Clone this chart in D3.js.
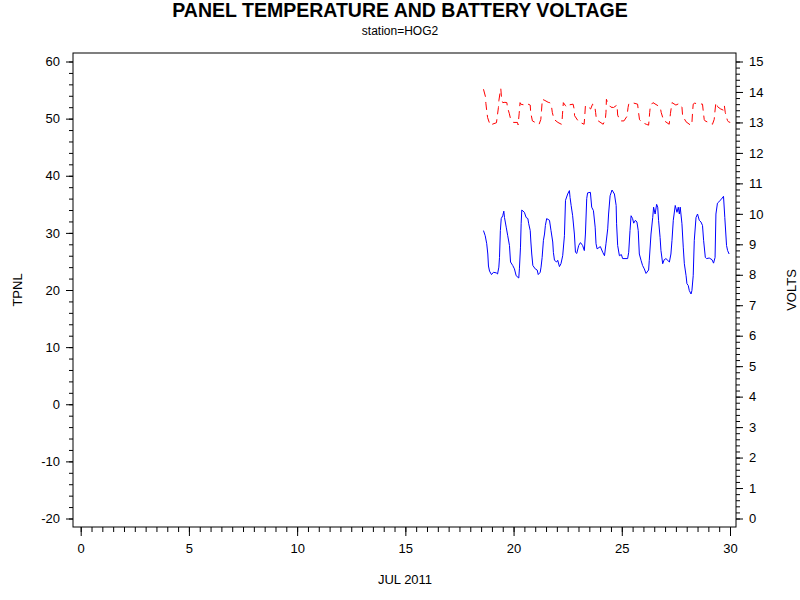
<!DOCTYPE html>
<html><head><meta charset="utf-8">
<script src="https://cdn.jsdelivr.net/npm/d3@7"></script>
<style>body{margin:0;background:#fff}svg{display:block}text{font-family:"Liberation Sans",Arial,sans-serif}</style>
</head><body>
<svg id="c" width="800" height="600"></svg>
<script>
const titleText = "PANEL TEMPERATURE AND BATTERY VOLTAGE";
const subtitleText = "station=HOG2";
const xLabel = "JUL 2011";
const yLeftLabel = "TPNL";
const yRightLabel = "VOLTS";
const xTicks = [0, 5, 10, 15, 20, 25, 30];
const yLeftTicks = [-20, -10, 0, 10, 20, 30, 40, 50, 60];
const yRightTicks = [0,1,2,3,4,5,6,7,8,9,10,11,12,13,14,15];

const tempDays = [18.61,18.69,18.76,18.81,18.84,18.89,18.98,19.07,19.20,19.26,19.32,19.35,19.39,19.43,19.50,19.55,19.58,19.66,19.73,19.81,19.86,19.96,20.04,20.12,20.24,20.27,20.32,20.35,20.38,20.50,20.58,20.66,20.70,20.77,20.80,20.84,20.89,21.00,21.09,21.14,21.23,21.27,21.32,21.38,21.43,21.47,21.53,21.66,21.73,21.81,21.84,21.89,21.99,22.04,22.12,22.19,22.27,22.35,22.40,22.50,22.58,22.61,22.66,22.73,22.81,22.86,22.92,23.01,23.09,23.19,23.27,23.32,23.38,23.42,23.55,23.61,23.69,23.77,23.81,23.86,24.01,24.12,24.20,24.27,24.35,24.39,24.46,24.55,24.66,24.74,24.76,24.81,24.89,24.98,25.04,25.27,25.32,25.38,25.43,25.50,25.55,25.63,25.70,25.76,25.81,25.89,25.96,26.04,26.12,26.24,26.27,26.35,26.43,26.47,26.54,26.61,26.66,26.70,26.77,26.81,26.89,26.96,27.04,27.20,27.27,27.32,27.38,27.47,27.55,27.61,27.66,27.70,27.78,27.84,27.89,27.97,28.01,28.07,28.12,28.20,28.24,28.30,28.35,28.43,28.50,28.58,28.66,28.73,28.78,28.86,28.92,29.04,29.17,29.24,29.31,29.35,29.42,29.58,29.70,29.76,29.84,29.89,29.96];
const tempValues = [30.4,29.5,28.1,26.3,24.2,23.3,22.7,23.1,23.0,22.8,24.0,25.7,30.4,32.5,33.0,33.8,32.7,31.0,29.5,27.8,24.9,24.3,23.7,22.5,22.1,23.7,27.5,31.6,34.0,33.6,32.7,32.5,31.6,30.4,28.4,26.3,24.3,23.7,23.5,22.7,23.1,24.0,25.7,28.7,29.8,31.3,32.5,32.2,30.4,28.4,26.6,25.2,24.9,25.2,24.1,24.6,26.0,29.5,35.7,36.8,37.4,36.2,34.8,33.0,29.8,26.6,26.4,27.8,28.3,27.8,26.9,29.8,36.0,37.0,37.1,34.5,33.9,31.0,28.1,27.2,27.6,26.6,26.0,28.1,30.7,33.3,36.5,37.5,36.8,34.8,31.6,27.8,26.0,26.2,25.5,25.5,26.6,30.4,33.0,32.5,31.7,32.2,31.9,30.4,26.3,25.2,24.3,23.7,22.9,23.5,25.2,29.8,32.7,34.5,33.3,35.0,34.5,32.2,29.2,26.9,24.6,25.3,25.5,24.9,26.3,28.7,32.2,34.8,33.6,34.5,33.3,34.5,31.6,27.5,24.6,22.5,21.1,20.8,19.9,19.3,19.9,22.5,28.7,32.7,33.3,32.2,31.9,31.3,28.7,25.7,25.5,25.6,25.3,24.7,25.7,33.3,35.2,35.8,36.4,32.7,27.8,26.9,26.3];

const voltDays = [18.61,18.70,18.72,18.76,18.80,18.92,19.05,19.21,19.26,19.30,19.32,19.36,19.41,19.45,19.50,19.60,19.69,19.72,19.80,19.87,20.00,20.18,20.21,20.26,20.30,20.33,20.45,20.55,20.67,20.77,20.79,20.87,21.00,21.18,21.26,21.29,21.33,21.45,21.60,21.67,21.75,21.79,21.87,22.05,22.21,22.24,22.26,22.30,22.40,22.49,22.60,22.75,22.80,22.82,23.01,23.26,23.29,23.32,23.40,23.50,23.56,23.65,23.75,23.79,23.83,24.14,24.24,24.27,24.29,24.37,24.50,24.62,24.78,24.81,24.93,25.10,25.24,25.29,25.32,25.47,25.73,25.78,25.82,26.00,26.13,26.24,26.29,26.32,26.44,26.67,26.78,26.82,26.93,27.19,27.25,27.32,27.50,27.65,27.78,27.81,27.97,28.20,28.24,28.27,28.30,28.35,28.73,28.77,28.81,28.85,29.19,29.27,29.30,29.34,29.38,29.42,29.55,29.70,29.74,29.78,29.88,29.93,30.01];
const voltValues = [14.09,13.85,13.63,13.38,13.16,12.91,12.95,12.99,13.27,13.49,13.71,13.90,14.11,13.75,13.65,13.66,13.65,13.49,13.30,13.09,13.00,13.00,12.92,13.30,13.65,13.60,13.58,13.62,13.60,13.57,13.33,13.05,13.00,12.94,13.10,13.38,13.76,13.72,13.66,13.65,13.54,13.33,13.10,13.00,12.94,13.05,13.27,13.65,13.55,13.49,13.58,13.60,13.44,13.22,13.02,12.94,13.22,13.55,13.55,13.48,13.44,13.60,13.55,13.33,13.09,12.94,13.10,13.33,13.76,13.60,13.50,13.49,13.57,13.24,13.05,13.05,13.20,13.49,13.60,13.65,13.60,13.30,13.09,12.98,12.94,12.91,13.33,13.55,13.65,13.55,13.49,13.33,13.07,12.94,13.30,13.65,13.57,13.62,13.50,13.22,13.02,12.90,12.98,13.33,13.60,13.63,13.60,13.33,13.09,13.05,12.94,13.10,13.33,13.60,13.65,13.52,13.45,13.40,13.55,13.33,13.07,13.02,13.00];

const svg = d3.select("#c");
const frame = {x0: 73, x1: 736, y0: 53, y1: 527};
const x = d3.scaleLinear().domain([0, 30]).range([80.7, 730]);
const yL = d3.scaleLinear().domain([-20, 60]).range([518.5, 61.5]);
const yR = d3.scaleLinear().domain([0, 15]).range([518.5, 61.5]);

const font = '"Liberation Sans",Arial,sans-serif';
const fmt = d => String(d);

// title
svg.append("text").attr("x", 400).attr("y", 17).attr("text-anchor", "middle")
  .attr("font-size", 19.5).attr("font-weight", "bold").text(titleText);
svg.append("text").attr("x", 400).attr("y", 35).attr("text-anchor", "middle")
  .attr("font-size", 12).text(subtitleText);

const xMinor = d3.range(0, 30.01, 0.5);
const yLMinor = d3.range(-20, 60.01, 2);
const yRMinor = d3.range(0, 15.01, 0.2);

function styleAxis(g){
  g.select(".domain").remove();
  g.selectAll("line").attr("stroke", "#000").attr("stroke-width", 1);
  g.selectAll("text").attr("font-family", font).attr("font-size", 13).attr("fill", "#000");
}

// left
const gl = svg.append("g").attr("transform", `translate(${frame.x0},0)`);
gl.append("g").call(d3.axisLeft(yL).tickValues(yLMinor).tickSize(4).tickFormat("")).call(styleAxis);
gl.append("g").call(d3.axisLeft(yL).tickValues(yLeftTicks).tickSize(7).tickPadding(6).tickFormat(fmt)).call(styleAxis);

// right
const gr = svg.append("g").attr("transform", `translate(${frame.x1},0)`);
gr.append("g").call(d3.axisRight(yR).tickValues(yRMinor).tickSize(4).tickFormat("")).call(styleAxis);
gr.append("g").call(d3.axisRight(yR).tickValues(yRightTicks).tickSize(7).tickPadding(6).tickFormat(fmt)).call(styleAxis);

// bottom
const gb = svg.append("g").attr("transform", `translate(0,${frame.y1})`);
gb.append("g").call(d3.axisBottom(x).tickValues(xMinor).tickSize(5).tickFormat("")).call(styleAxis);
gb.append("g").call(d3.axisBottom(x).tickValues(xTicks).tickSize(9).tickPadding(8).tickFormat(fmt)).call(styleAxis);

// frame
svg.append("rect").attr("x", frame.x0).attr("y", frame.y0)
  .attr("width", frame.x1 - frame.x0).attr("height", frame.y1 - frame.y0)
  .attr("fill", "none").attr("stroke", "#000").attr("stroke-width", 1);

// axis labels
svg.append("text").attr("transform", "translate(22,290) rotate(-90)").attr("text-anchor", "middle")
  .attr("font-size", 13).text(yLeftLabel);
svg.append("text").attr("transform", "translate(796,290) rotate(-90)").attr("text-anchor", "middle")
  .attr("font-size", 13).text(yRightLabel);
svg.append("text").attr("x", 405).attr("y", 584).attr("text-anchor", "middle")
  .attr("font-size", 13).text(xLabel);

// lines
const temp = tempDays.map((d, i) => [d, tempValues[i]]);
const volt = voltDays.map((d, i) => [d, voltValues[i]]);
svg.append("path").datum(temp)
  .attr("d", d3.line().x(d => x(d[0])).y(d => yL(d[1])))
  .attr("fill", "none").attr("stroke", "#0000ff").attr("stroke-width", 1);
svg.append("path").datum(volt)
  .attr("d", d3.line().x(d => x(d[0])).y(d => yR(d[1])))
  .attr("fill", "none").attr("stroke", "#ff0000").attr("stroke-width", 1)
  .attr("stroke-dasharray", "8,5");
</script>
</body></html>
